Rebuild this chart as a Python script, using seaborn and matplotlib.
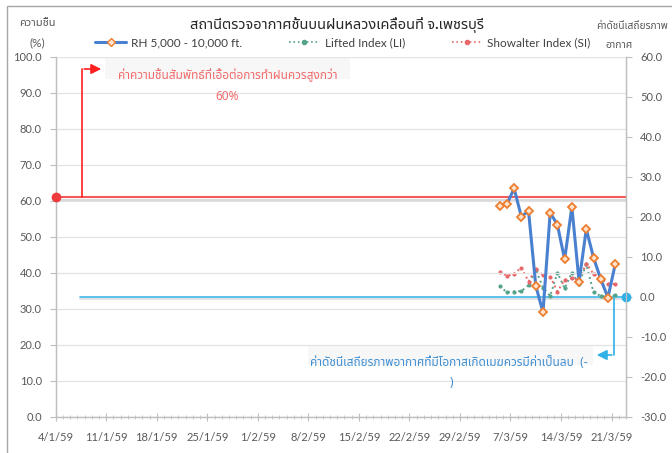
import matplotlib
matplotlib.use("Agg")
import matplotlib.pyplot as plt
import matplotlib.dates as mdates
import matplotlib.patheffects as pe
from matplotlib import font_manager, ft2font
from matplotlib.patches import Rectangle
from matplotlib.lines import Line2D
from matplotlib.ticker import FixedLocator, FormatStrFormatter, FuncFormatter
from datetime import datetime, timedelta
import pandas as pd
import seaborn as sns

# data (dates in Thai Buddhist era, d/m/yy)
dates = ["5/3/59", "6/3/59", "7/3/59", "8/3/59", "9/3/59", "10/3/59", "11/3/59",
         "12/3/59", "13/3/59", "14/3/59", "15/3/59", "16/3/59", "17/3/59",
         "18/3/59", "19/3/59", "20/3/59", "21/3/59"]
rh = [58.6, 59.0, 63.4, 55.6, 57.1, 36.4, 29.0, 56.7, 53.3, 43.7, 58.3, 37.5,
      52.1, 44.2, 38.2, 33.1, 42.3]
li = [2.6, 1.1, 1.3, 1.4, 2.9, 6.7, 2.3, 0.2, 6.0, 2.1, 6.0, 3.3, 8.1, 1.1,
      0.2, 0.0, 0.4]
si = [6.3, 5.2, 5.7, 7.3, 3.8, 6.9, 5.4, 5.0, 1.3, 4.2, 4.6, 4.2, 8.3, 5.7,
      4.6, 3.3, 3.1]
rh_threshold = 61
li_threshold = 0

W, H = 672, 453


def be_date(s):
    d, m, y = (int(v) for v in s.split("/"))
    return datetime(2500 + y - 543, m, d)


def thai_family():
    names = set()
    for f in font_manager.fontManager.ttflist:
        try:
            if 0x0E2A in ft2font.FT2Font(f.fname).get_charmap():
                names.add(f.name)
        except Exception:
            pass
    for pref in ["Noto Sans Thai", "Noto Sans Thai UI", "Loma", "Garuda", "Sarabun",
                 "Tahoma", "Leelawadee UI", "DejaVu Sans"]:
        if pref in names:
            return pref
    return sorted(names)[0] if names else "DejaVu Sans"


sns.set_style("white")
THAI = thai_family()
plt.rcParams["font.family"] = ["Lato", THAI, "DejaVu Sans"]
plt.rcParams["axes.unicode_minus"] = False

df = pd.DataFrame({
    "date": [be_date(s) + timedelta(hours=12) for s in dates],
    "rh": rh, "li": li, "si": si,
})

fig, ax = plt.subplots(figsize=(W / 100, H / 100), dpi=100)
fig.subplots_adjust(left=55.7 / W, right=626 / W, top=1 - 56.7 / H, bottom=1 - 416.7 / H)
ax2 = ax.twinx()

x0 = be_date("4/1/59")
x1 = be_date("23/3/59")

blue = "#4a80d0"
orange = "#ed7d31"
green = "#55a38a"
red = "#e8686a"
gray_txt = "#595959"

sns.lineplot(data=df, x="date", y="rh", ax=ax, color=blue, lw=2.2, marker="D",
             markersize=4.5, markeredgecolor=orange, markerfacecolor="#fde3cc",
             markeredgewidth=1.3, zorder=5, legend=False)
sns.lineplot(data=df, x="date", y="li", ax=ax2, color=green, lw=1.4, ls=":",
             marker="o", markersize=3, markeredgewidth=0, zorder=3, legend=False)
sns.lineplot(data=df, x="date", y="si", ax=ax2, color=red, lw=1.4, ls=":",
             marker="o", markersize=3, markeredgewidth=0, zorder=3, legend=False)
ax.set_zorder(ax2.get_zorder() + 1)
ax.patch.set_visible(False)

# threshold lines
shadow = [pe.SimpleLineShadow(offset=(0, -2), shadow_color="#999999", alpha=0.35), pe.Normal()]
ax.plot([x0, x1], [rh_threshold, rh_threshold], color="#f25a5a", lw=1.5,
        path_effects=shadow, zorder=2)
ax.plot([x0], [rh_threshold], "o", color="#f03c3c", ms=6, clip_on=False, zorder=6)
cyan = "#3db8ea"
ax2.plot([x0 + timedelta(days=3.4), x1], [li_threshold, li_threshold], color=cyan, lw=1.2,
         path_effects=shadow, zorder=2)
ax2.plot([x1], [li_threshold], "o", color="#2fb0e6", ms=6, clip_on=False, zorder=6)

# axes
ax.set_xlim(x0, x1)
ax.set_ylim(0, 100)
ax2.set_ylim(-30, 60)
ax.yaxis.set_major_locator(FixedLocator(range(0, 101, 10)))
ax2.yaxis.set_major_locator(FixedLocator(range(-30, 61, 10)))
ax.yaxis.set_major_formatter(FormatStrFormatter("%.1f"))
ax2.yaxis.set_major_formatter(FormatStrFormatter("%.1f"))
ax.set_xticks(pd.date_range(x0, be_date("21/3/59"), freq="7D"))
ax.xaxis.set_minor_locator(mdates.DayLocator())


def thai_fmt(v, pos):
    d = mdates.num2date(v)
    return f"{d.day}/{d.month}/{(d.year + 543) % 100}"


ax.xaxis.set_major_formatter(FuncFormatter(thai_fmt))
ax.set_xlabel("")
ax.set_ylabel("")
ax2.set_ylabel("")
ax.grid(axis="y", color="#e3e3e3", lw=0.9)
ax.grid(axis="x", visible=False)
ax2.grid(False)

for a in (ax, ax2):
    for s in a.spines.values():
        s.set_color("#bfbfbf")
        s.set_linewidth(0.9)
    a.spines["top"].set_visible(False)
ax.tick_params(axis="y", which="major", direction="out", length=4, color="#bfbfbf",
               labelsize=8, labelcolor=gray_txt, pad=6, left=True)
ax2.tick_params(axis="y", which="major", direction="out", length=4, color="#bfbfbf",
                labelsize=8, labelcolor=gray_txt, pad=6, right=True)
ax.tick_params(axis="x", which="major", direction="inout", length=6, color="#bfbfbf",
               labelsize=8, labelcolor=gray_txt, pad=8, bottom=True)
ax.tick_params(axis="x", which="minor", direction="inout", length=3, color="#bfbfbf",
               bottom=True)

# texts
fig.text(337 / W, 1 - 25 / H, "สถานีตรวจอากาศชั้นบนฝนหลวงเคลื่อนที่ จ.เพชรบุรี",
         ha="center", va="center", fontsize=10.5, fontweight="bold", color="#262626")
fig.text(37 / W, 1 - 23 / H, "ความชื้น", ha="center", va="center", fontsize=8, color=gray_txt)
fig.text(37 / W, 1 - 43 / H, "(%)", ha="center", va="center", fontsize=8.5, color=gray_txt)
fig.text(632 / W, 1 - 26 / H, "ค่าดัชนีเสถียรภาพ", ha="center", va="center", fontsize=7.3, color=gray_txt)
fig.text(619 / W, 1 - 45 / H, "อากาศ", ha="center", va="center", fontsize=7.5, color=gray_txt)

handles = [
    Line2D([], [], color=blue, lw=2.2, marker="D", ms=4, markeredgecolor=orange,
           markerfacecolor="#fde3cc"),
    Line2D([], [], color=green, lw=1.2, ls=":", marker="o", ms=3),
    Line2D([], [], color=red, lw=1.2, ls=":", marker="o", ms=3),
]
fig.legend(handles, ["RH 5,000 - 10,000 ft.", "Lifted Index (LI)", "Showalter Index (SI)"],
           loc="center", bbox_to_anchor=(343 / W, 1 - 43 / H), ncol=3, frameon=False,
           fontsize=8.5, handlelength=2.6, columnspacing=4.0, handletextpad=0.4,
           labelcolor="#404040")

# annotation boxes and connectors
fig.patches.append(Rectangle((105 / W, 1 - 79 / H), 245 / W, 21 / H, transform=fig.transFigure,
                             facecolor="#f7f7f7", edgecolor="none", zorder=0.5))
fig.patches.append(Rectangle((308 / W, 1 - 365 / H), 285 / W, 20 / H, transform=fig.transFigure,
                             facecolor="#f7f7f7", edgecolor="none", zorder=0.5))
fig.text(228 / W, 1 - 75 / H, "ค่าความชื้นสัมพัทธ์ที่เอื้อต่อการทำฝนควรสูงกว่า",
         ha="center", va="center", fontsize=8.5, style="italic", color="#f26b6b",
         family=[THAI, "DejaVu Sans"])
fig.text(227 / W, 1 - 97 / H, "60%", ha="center", va="center", fontsize=8.5,
         style="italic", color="#f26b6b", family=[THAI, "DejaVu Sans"])
fig.text(449 / W, 1 - 362 / H, "ค่าดัชนีเสถียรภาพอากาศที่มีโอกาสเกิดเมฆควรมีค่าเป็นลบ  (-",
         ha="center", va="center", fontsize=8.5, style="italic", color="#3f8fd2",
         family=[THAI, "DejaVu Sans"])
fig.text(451 / W, 1 - 382 / H, ")", ha="center", va="center", fontsize=8.5,
         style="italic", color="#3f8fd2", family=[THAI, "DejaVu Sans"])

fig.add_artist(Line2D([82 / W, 82 / W], [1 - 197 / H, 1 - 69 / H], color="#ff1f1f", lw=1.2))
ax.annotate("", xy=(104, H - 69), xytext=(81.4, H - 69), xycoords="figure pixels",
            textcoords="figure pixels",
            arrowprops=dict(arrowstyle="-|>,head_length=0.6,head_width=0.3", color="#ff1f1f", lw=1.2))
fig.add_artist(Line2D([614 / W, 614 / W], [1 - 298 / H, 1 - 355 / H], color="#2fb0e6", lw=1.2))
ax.annotate("", xy=(594, H - 355), xytext=(614.6, H - 355), xycoords="figure pixels",
            textcoords="figure pixels",
            arrowprops=dict(arrowstyle="-|>,head_length=0.6,head_width=0.3", color="#2fb0e6", lw=1.2))

# outer chart frame (top and left edges visible)
fig.patches.append(Rectangle((7 / W, -0.1), 1.2, 1 - 6 / H + 0.1, transform=fig.transFigure,
                             facecolor="none", edgecolor="#a6a6a6", lw=1.0, zorder=0))

fig.savefig("out.png", dpi=100)
